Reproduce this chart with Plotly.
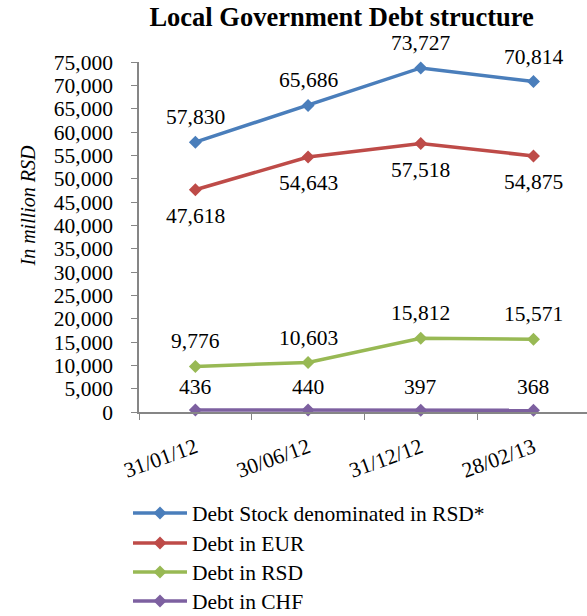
import plotly.graph_objects as go

dates = ["31/01/12", "30/06/12", "31/12/12", "28/02/13"]
debt_stock_rsd = [57830, 65686, 73727, 70814]
debt_eur = [47618, 54643, 57518, 54875]
debt_rsd = [9776, 10603, 15812, 15571]
debt_chf = [436, 440, 397, 368]

# name, values, colour, label offset in px (+ above, - below)
series = [
    ("Debt Stock denominated in RSD*", debt_stock_rsd, "#4A7EBB", 25),
    ("Debt in EUR", debt_eur, "#BE4B48", -26),
    ("Debt in RSD", debt_rsd, "#98B954", 25),
    ("Debt in CHF", debt_chf, "#7D60A0", 23),
]

FONT = "Liberation Serif"
FS = 21.5
H = 616
LEGEND_ROWS = [513, 543, 572, 601]  # vertical centre of each legend row, px from top

fig = go.Figure()
annotations = []
legend_layouts = {}
for i, (name, vals, color, shift) in enumerate(series):
    lg = "legend" if i == 0 else f"legend{i + 1}"
    fig.add_trace(go.Scatter(
        x=dates, y=vals, name=name, mode="lines+markers",
        line=dict(color=color, width=3.5),
        marker=dict(symbol="diamond", size=10, color=color),
        cliponaxis=False, legend=lg,
    ))
    legend_layouts[lg] = dict(
        xref="container", yref="container",
        x=128 / 587, y=1 - LEGEND_ROWS[i] / H,
        xanchor="left", yanchor="middle",
        itemwidth=54,
        font=dict(family=FONT, size=FS, color="#000000"),
        bgcolor="rgba(0,0,0,0)",
    )
    for d, v in zip(dates, vals):
        annotations.append(dict(
            x=d, y=v, xref="x", yref="y", text=f"{v:,}", showarrow=False,
            yshift=shift, xanchor="center", yanchor="middle",
            font=dict(family=FONT, size=FS, color="#000000"),
        ))

annotations.append(dict(
    text="<i>In million RSD</i>", textangle=-90, showarrow=False,
    xref="paper", yref="paper", x=-0.25, y=0.59,
    xanchor="center", yanchor="middle",
    font=dict(family=FONT, size=20, color="#000000"),
))

fig.update_layout(
    width=587, height=H,
    margin=dict(l=139, r=0, t=62, b=204, autoexpand=False),
    paper_bgcolor="white", plot_bgcolor="white",
    font=dict(family=FONT, size=FS, color="#000000"),
    title=dict(text="<b>Local Government Debt structure</b>",
               font=dict(family=FONT, size=26.5, color="#000000"),
               x=0.582, xanchor="center", y=1 - 17 / H, yanchor="middle"),
    showlegend=True,
    annotations=annotations,
    **legend_layouts,
)
fig.update_xaxes(
    type="category", range=[-0.5, 3.475],
    showline=True, linecolor="#868686", linewidth=1.5,
    ticks="outside", tickson="boundaries", ticklen=6, tickcolor="#868686",
    tickangle=-20, ticklabelstandoff=13,
    tickfont=dict(family=FONT, size=FS),
    showgrid=False, zeroline=False,
)
fig.update_yaxes(
    range=[0, 75000], dtick=5000, tickformat=",",
    showline=True, linecolor="#868686", linewidth=1.5,
    ticks="outside", ticklen=6, tickcolor="#868686",
    ticklabelstandoff=14,
    tickfont=dict(family=FONT, size=FS),
    showgrid=False, zeroline=False,
)

fig.write_html("out.html")
